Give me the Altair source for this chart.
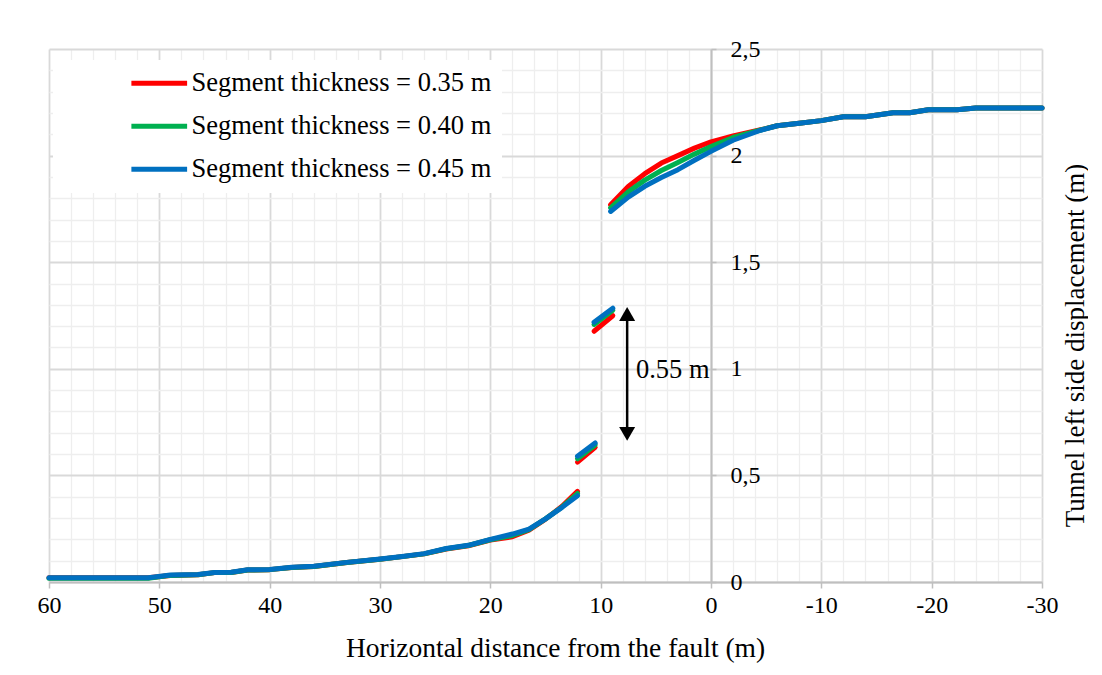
import altair as alt
import pandas as pd

# ---------------- data ----------------
series_names = ["Segment thickness = 0.35 m", "Segment thickness = 0.40 m", "Segment thickness = 0.45 m"]
series_colors = ["#ff0000", "#00b050", "#0070c0"]

# segment A (far field, left of the fault)
segA_x = [60, 51, 49, 46.5, 45, 43.5, 42, 40, 38, 36, 33, 30, 28, 26, 24, 22, 20, 18, 16.5, 15, 13.5, 12.1]
segA_red = [0.02, 0.02, 0.031, 0.034, 0.044, 0.045, 0.056, 0.058, 0.068, 0.073, 0.091, 0.107, 0.119, 0.132, 0.155, 0.17, 0.197, 0.212, 0.243, 0.295, 0.355, 0.425]
segA_green = [0.018, 0.018, 0.031, 0.034, 0.044, 0.045, 0.056, 0.058, 0.068, 0.073, 0.091, 0.107, 0.119, 0.132, 0.156, 0.171, 0.198, 0.218, 0.246, 0.296, 0.352, 0.415]
segA_blue = [0.02, 0.02, 0.033, 0.035, 0.045, 0.046, 0.057, 0.059, 0.069, 0.074, 0.092, 0.108, 0.12, 0.133, 0.157, 0.172, 0.2, 0.225, 0.248, 0.296, 0.35, 0.405]

# segment B
segB_x = [12.1, 10.5]
segB_red = [0.562, 0.632]
segB_green = [0.578, 0.643]
segB_blue = [0.59, 0.652]

# segment C
segC_x = [10.6, 8.9]
segC_red = [1.176, 1.249]
segC_green = [1.208, 1.275]
segC_blue = [1.218, 1.284]

# segment D (right of the fault)
segD_x = [9.1, 7.5, 6, 4.5, 3, 1.5, 0, -2, -4.5, -6, -8, -10, -12, -14, -16.5, -18, -19.7, -22.3, -24, -27, -30]
segD_red = [1.77, 1.855, 1.915, 1.965, 2.0, 2.035, 2.064, 2.092, 2.121, 2.14, 2.152, 2.164, 2.182, 2.182, 2.201, 2.201, 2.215, 2.215, 2.223, 2.223, 2.223]
segD_green = [1.755, 1.83, 1.885, 1.93, 1.968, 2.007, 2.042, 2.085, 2.12, 2.14, 2.152, 2.164, 2.182, 2.182, 2.201, 2.201, 2.215, 2.215, 2.223, 2.223, 2.223]
segD_blue = [1.738, 1.805, 1.856, 1.897, 1.934, 1.978, 2.02, 2.072, 2.119, 2.14, 2.152, 2.164, 2.182, 2.182, 2.201, 2.201, 2.215, 2.215, 2.223, 2.223, 2.223]

# annotation (double arrow and label)
arrow_x = [7.6]
arrow_y_low = [0.70]
arrow_y_high = [1.255]
arrow_head_up_y = [1.257]
arrow_head_down_y = [0.695]
arrow_label = ["0.55 m"]
arrow_label_x = [6.8]
arrow_label_y = [0.996]

x_tick_values = list(range(-30, 61, 2))
y_tick_values = [round(i * 0.1, 1) for i in range(26)]

# ---------------- build table ----------------
segments = {
    "A": (segA_x, [segA_red, segA_green, segA_blue]),
    "B": (segB_x, [segB_red, segB_green, segB_blue]),
    "C": (segC_x, [segC_red, segC_green, segC_blue]),
    "D": (segD_x, [segD_red, segD_green, segD_blue]),
}
rows = []
for si, name in enumerate(series_names):
    for seg, (xs, ys_all) in segments.items():
        for i, (xv, yv) in enumerate(zip(xs, ys_all[si])):
            rows.append({"series": name, "seg": f"{si}{seg}", "x": xv, "y": yv, "order": i})
df = pd.DataFrame(rows)

arrow_df = pd.DataFrame({"x": arrow_x, "y": arrow_y_low, "y2": arrow_y_high})
head_up_df = pd.DataFrame({"x": arrow_x, "y": arrow_head_up_y})
head_down_df = pd.DataFrame({"x": arrow_x, "y": arrow_head_down_y})
label_df = pd.DataFrame({"x": arrow_label_x, "y": arrow_label_y, "t": arrow_label})

FONT = "Liberation Serif"
W, H = 993, 533
y_axis_offset = -W * 30 / 90  # put the y axis at x = 0

MAJOR_X = "datum.value % 10 === 0"
MAJOR_Y = "abs(datum.value * 2 - round(datum.value * 2)) < 0.001"

x_enc = alt.X(
    "x:Q",
    scale=alt.Scale(domain=[-30, 60], reverse=True, nice=False, zero=False),
    axis=alt.Axis(
        values=x_tick_values,
        title="Horizontal distance from the fault (m)",
        labelExpr=MAJOR_X + " ? toString(datum.value) : ''",
        labelFlush=False,
        labelOverlap=False,
        labelBound=False,
        grid=True,
        gridColor={"condition": {"test": MAJOR_X, "value": "#d9d9d9"}, "value": "#eeeeee"},
        gridWidth={"condition": {"test": MAJOR_X, "value": 1.8}, "value": 1.3},
        tickColor={"condition": {"test": MAJOR_X, "value": "#bfbfbf"}, "value": "transparent"},
        tickSize=6,
        tickWidth=1.5,
        domainColor="#bfbfbf",
        domainWidth=2,
        labelFont=FONT,
        labelFontSize=24,
        labelColor="black",
        labelPadding=5,
        titleFont=FONT,
        titleFontSize=27.5,
        titleFontWeight="normal",
        titleColor="black",
        titleX=506,
        titleY=66,
        titleAlign="center",
        titleBaseline="middle",
    ),
)

y_enc = alt.Y(
    "y:Q",
    scale=alt.Scale(domain=[0, 2.5], nice=False, zero=False),
    axis=alt.Axis(
        orient="right",
        offset=y_axis_offset,
        values=y_tick_values,
        title="Tunnel left side displacement (m)",
        labelExpr=MAJOR_Y + " ? replace(toString(datum.value), '.', ',') : ''",
        labelOverlap=False,
        labelFlush=False,
        labelBound=False,
        grid=True,
        gridColor={"condition": {"test": MAJOR_Y, "value": "#d9d9d9"}, "value": "#eeeeee"},
        gridWidth={"condition": {"test": MAJOR_Y, "value": 1.8}, "value": 1.3},
        tickColor={"condition": {"test": MAJOR_Y, "value": "#bfbfbf"}, "value": "transparent"},
        tickSize=5,
        tickWidth=1.5,
        domainColor="#bfbfbf",
        domainWidth=2,
        labelFont=FONT,
        labelFontSize=24,
        labelColor="black",
        labelPadding=14,
        labelAlign="left",
        labelBaseline="middle",
        titleFont=FONT,
        titleFontSize=27,
        titleFontWeight="normal",
        titleColor="black",
        titleAngle=270,
        titleX=364,
        titleY=296,
        titleAlign="center",
        titleBaseline="middle",
    ),
)

lines = alt.Chart(df).mark_line(strokeWidth=5, strokeCap="round", strokeJoin="round").encode(
    x=x_enc,
    y=y_enc,
    color=alt.Color(
        "series:N",
        scale=alt.Scale(domain=series_names, range=series_colors),
        legend=alt.Legend(
            title="\u00a0",
            titleOrient="left",
            titlePadding=83,
            titleFont=FONT,
            titleFontSize=26,
            orient="none",
            legendX=4,
            legendY=11,
            fillColor="white",
            padding=10,
            symbolType="M-3,0H3",
            symbolSize=345,
            symbolStrokeWidth=5,
            labelFont=FONT,
            labelFontSize=26.5,
            labelColor="black",
            labelOffset=19,
            labelLimit=600,
            rowPadding=16,
        ),
    ),
    detail="seg:N",
    order="order:Q",
)

arrow = alt.Chart(arrow_df).mark_rule(color="black", strokeWidth=2.5).encode(
    x=x_enc, y=y_enc, y2="y2:Q"
)
head_up = alt.Chart(head_up_df).mark_point(shape="triangle-up", filled=True, size=256, color="black", opacity=1).encode(
    x=x_enc, y=y_enc
)
head_down = alt.Chart(head_down_df).mark_point(shape="triangle-down", filled=True, size=256, color="black", opacity=1).encode(
    x=x_enc, y=y_enc
)
label = alt.Chart(label_df).mark_text(align="left", baseline="middle", font=FONT, fontSize=26.5, color="black").encode(
    x=x_enc, y=y_enc, text="t:N"
)

chart = (
    alt.layer(lines, arrow, head_up, head_down, label)
    .properties(
        width=W,
        height=H,
        autosize=alt.AutoSizeParams(type="none"),
        padding={"left": 41, "top": 41, "right": 46, "bottom": 82},
        background="white",
    )
    .configure_view(strokeWidth=0)
)

chart.save("out.html", embed_options={"renderer": "svg", "actions": False})
